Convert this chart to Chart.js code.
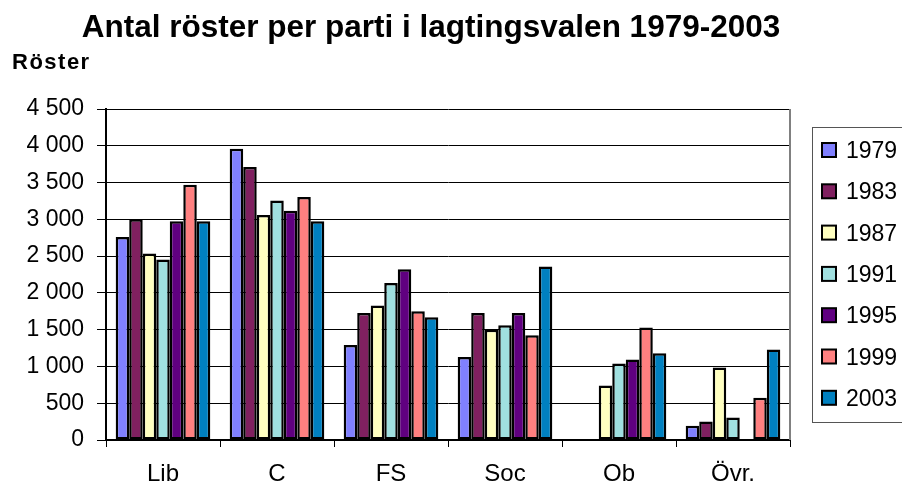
<!DOCTYPE html>
<html>
<head>
<meta charset="utf-8">
<script src="https://cdn.jsdelivr.net/npm/chart.js@4"></script>
<style>
  html, body { margin: 0; padding: 0; background: #fff; }
  #wrap { width: 902px; height: 488px; }
</style>
</head>
<body>
<div id="wrap"><canvas id="myChart" width="902" height="488"></canvas></div>
<script>
const labels = ['Lib', 'C', 'FS', 'Soc', 'Ob', 'Övr.']
const years = ['1979', '1983', '1987', '1991', '1995', '1999', '2003']
const colors = ['#8080FF', '#802060', '#FFFFC0', '#A0E0E0', '#600080', '#FF8080', '#0080C0']

const v1979 = [2760, 3960, 1290, 1130, null, 195]
const v1983 = [3000, 3710, 1725, 1725, null, 250]
const v1987 = [2535, 3060, 1830, 1500, 740, 985]
const v1991 = [2455, 3255, 2135, 1560, 1040, 305]
const v1995 = [2975, 3115, 2320, 1725, 1095, null]
const v1999 = [3470, 3305, 1750, 1425, 1530, 575]
const v2003 = [2975, 2975, 1670, 2360, 1180, 1230]
const values = [v1979, v1983, v1987, v1991, v1995, v1999, v2003]

const yTicks = [0, 500, 1000, 1500, 2000, 2500, 3000, 3500, 4000, 4500]

const font = '"Liberation Sans", Arial, sans-serif'

const data = {
    labels: labels,
    datasets: years.map((y, i) => ({
        label: y,
        data: values[i],
        backgroundColor: colors[i],
        borderColor: '#000',
        borderWidth: 2.5,
        borderSkipped: false,
        categoryPercentage: 0.83,
        barPercentage: 1.0
    }))
}

// titles, legend box and plot border drawn by hand
const extras = {
    id: 'extras',
    afterDraw(chart) {
        const ctx = chart.ctx
        const a = chart.chartArea
        ctx.save()
        ctx.fillStyle = '#000'
        ctx.textBaseline = 'alphabetic'
        ctx.textAlign = 'center'
        ctx.font = 'bold 31.5px ' + font
        ctx.fillText('Antal röster per parti i lagtingsvalen 1979-2003', 431, 37)
        ctx.textAlign = 'left'
        ctx.font = 'bold 22px ' + font
        ctx.letterSpacing = '1.5px'
        ctx.fillText('Röster', 12, 69)
        ctx.letterSpacing = '0px'

        // right border of plot
        ctx.strokeStyle = '#808080'
        ctx.lineWidth = 2
        ctx.beginPath()
        ctx.moveTo(a.right, a.top)
        ctx.lineTo(a.right, a.bottom)
        ctx.stroke()

        // legend
        ctx.lineWidth = 1
        ctx.strokeStyle = '#555'
        ctx.strokeRect(812.5, 127.5, 120, 295)
        ctx.font = '23px ' + font
        chart.data.datasets.forEach((ds, i) => {
            const cy = 150 + i * 41.3
            ctx.fillStyle = ds.backgroundColor
            ctx.fillRect(822, cy - 7, 14, 14)
            ctx.strokeStyle = '#000'
            ctx.lineWidth = 2
            ctx.strokeRect(822, cy - 7, 14, 14)
            ctx.fillStyle = '#000'
            ctx.fillText(ds.label, 846, cy + 8)
        })
        ctx.restore()
    }
}

const config = {
    type: 'bar',
    data: data,
    options: {
        responsive: false,
        animation: false,
        layout: { padding: { left: 0, right: 112, top: 109, bottom: 0 } },
        plugins: {
            legend: { display: false },
            title: { display: false },
            tooltip: { enabled: false }
        },
        scales: {
            x: {
                grid: { offset: true, drawOnChartArea: false, tickLength: 7, color: '#000', lineWidth: 1 },
                border: { color: '#000', width: 2 },
                ticks: { color: '#000', font: { family: font, size: 24 }, padding: 13 },
                afterFit: s => { s.height = 48 }
            },
            y: {
                min: 0,
                max: 4500,
                afterBuildTicks: s => { s.ticks = yTicks.map(v => ({ value: v })) },
                grid: { color: '#000', lineWidth: 1, tickLength: 9 },
                border: { color: '#000', width: 2 },
                ticks: {
                    color: '#000',
                    font: { family: font, size: 23 },
                    padding: 13,
                    callback: v => String(v).replace(/\B(?=(\d{3})+(?!\d))/g, ' ')
                },
                afterFit: s => { s.width = 106 }
            }
        }
    },
    plugins: [extras]
}

var myChart = new Chart(document.getElementById('myChart'), config)
</script>
</body>
</html>
